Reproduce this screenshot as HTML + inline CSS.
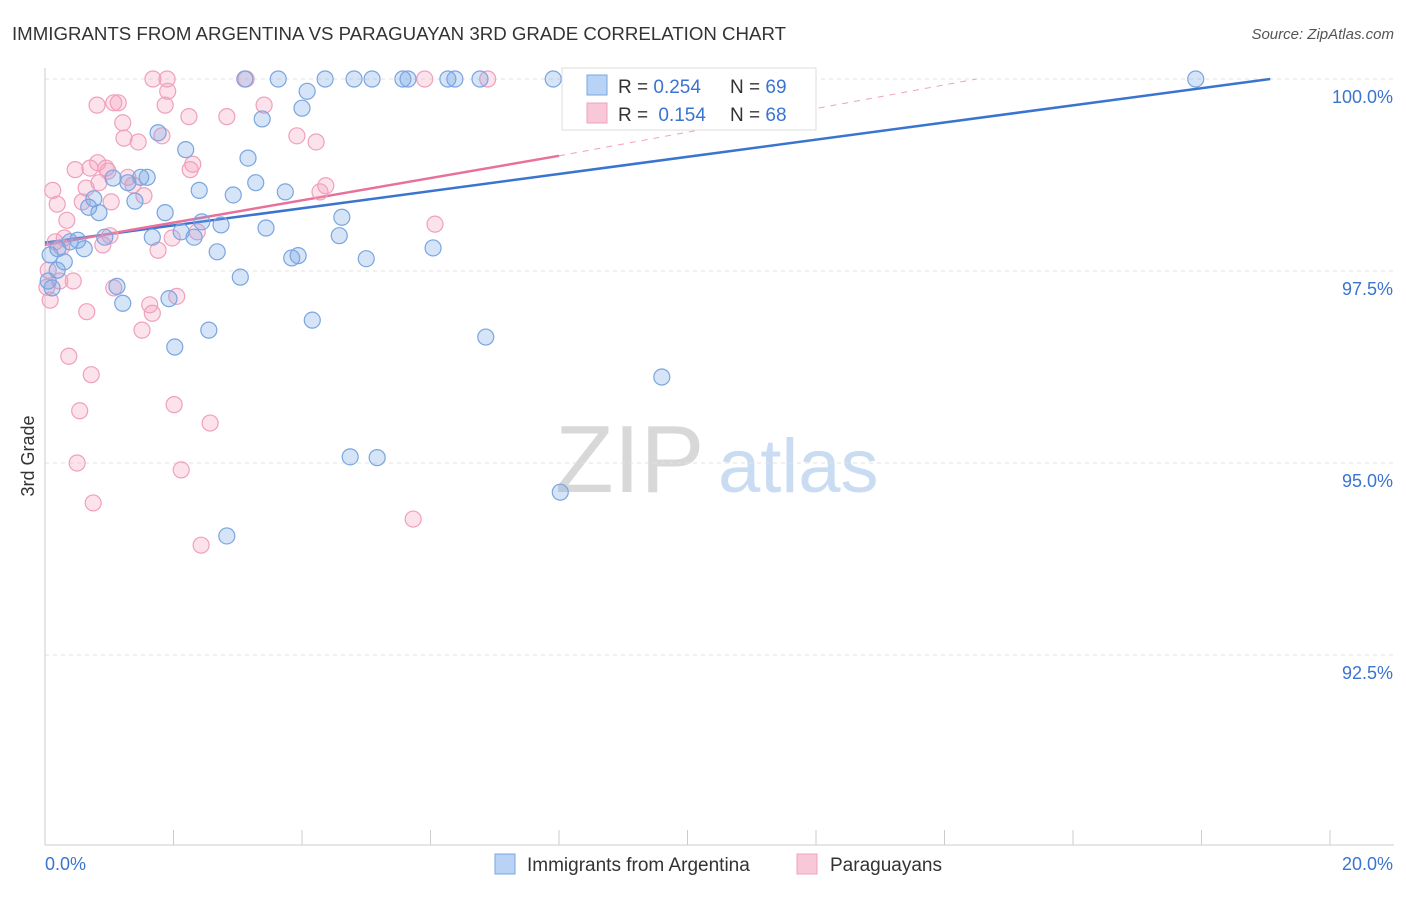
<!DOCTYPE html>
<html><head><meta charset="utf-8"><style>
body{margin:0;background:#fff;font-family:"Liberation Sans",sans-serif}
svg text{font-family:"Liberation Sans",sans-serif}
</style></head><body>
<svg id="chart" width="1406" height="892" xmlns="http://www.w3.org/2000/svg">
<text x="12" y="40" font-size="18" fill="#333" textLength="774" lengthAdjust="spacingAndGlyphs">IMMIGRANTS FROM ARGENTINA VS PARAGUAYAN 3RD GRADE CORRELATION CHART</text>
<text x="1394" y="39" font-size="15" fill="#555" text-anchor="end" font-style="italic">Source: ZipAtlas.com</text>
<g>
<text x="555" y="492" font-size="96" font-family="Liberation Serif" fill="#d8d8d8">ZIP</text>
<text x="718" y="492" font-size="76" fill="#c9dcf2">atlas</text>
</g>
<text transform="translate(34,456) rotate(-90)" font-size="18" fill="#333" text-anchor="middle">3rd Grade</text>
<g id="grid"></g><g id="axes"></g><g id="lines"></g><g id="points"></g>
<g>
<rect x="562" y="68" width="254" height="62" fill="#fff" stroke="#ddd"/>
<rect x="587" y="75" width="20" height="20" fill="#b8d3f5" stroke="#7aa5e0"/>
<text x="618" y="93" font-size="19" fill="#333">R = <tspan fill="#3a74d0">0.254</tspan></text>
<text x="730" y="93" font-size="19" fill="#333">N = <tspan fill="#3a74d0">69</tspan></text>
<rect x="587" y="103" width="20" height="20" fill="#f9c8d8" stroke="#f0a0bc"/>
<text x="618" y="121" font-size="19" fill="#333">R = <tspan fill="#3a74d0" dx="5">0.154</tspan></text>
<text x="730" y="121" font-size="19" fill="#333">N = <tspan fill="#3a74d0">68</tspan></text>
</g>
<g>
<rect x="495" y="854" width="20" height="20" fill="#b8d3f5" stroke="#7aa5e0"/>
<text x="527" y="871" font-size="19" fill="#333">Immigrants from Argentina</text>
<rect x="797" y="854" width="20" height="20" fill="#f9c8d8" stroke="#f0a0bc"/>
<text x="830" y="871" font-size="19" fill="#333">Paraguayans</text>
</g>
</svg>
<script>
const blueX=[3.11,3.63,4.36,4.81,5.09,5.57,5.65,6.27,6.38,6.77,7.91,8.17,17.91,4.08,4.00,10.82,3.38,1.76,2.19,3.16,1.06,1.49,1.59,1.29,3.28,2.40,3.74,2.93,0.76,1.40,0.68,0.84,1.87,4.62,2.44,2.74,3.44,2.12,1.67,2.32,4.58,0.51,0.93,0.39,0.20,0.61,2.68,6.04,3.94,3.84,5.00,0.30,0.19,3.04,1.12,0.11,1.93,1.21,4.16,2.55,6.86,2.02,9.60,4.75,5.17,8.02,2.83,0.08,0.05];
const blueY=[100,100,100,100,100,100,100,100,100,100,100,100,100,99.84,99.62,99.73,99.48,99.30,99.08,98.97,98.71,98.72,98.72,98.65,98.65,98.55,98.53,98.49,98.44,98.41,98.33,98.26,98.26,98.20,98.14,98.10,98.06,98.01,97.94,97.94,97.96,97.90,97.94,97.88,97.79,97.79,97.75,97.80,97.70,97.67,97.66,97.62,97.51,97.42,97.30,97.28,97.14,97.08,96.86,96.73,96.64,96.51,96.12,95.08,95.07,94.62,94.05,97.71,97.37];
const pinkX=[1.68,1.90,3.13,5.91,6.89,1.91,0.81,1.07,1.14,3.41,1.87,2.83,2.24,1.21,3.92,1.23,1.45,1.82,4.22,0.82,2.30,0.47,0.70,0.95,0.98,2.26,1.29,0.84,1.37,0.12,0.64,4.37,4.28,1.54,0.19,0.58,1.03,6.07,0.34,2.37,1.98,1.01,0.16,0.30,0.26,1.76,0.90,0.44,0.23,1.07,2.05,1.63,1.67,0.65,1.51,0.37,0.72,2.01,0.54,2.57,0.50,2.12,0.75,5.73,2.43,0.05,0.08,0.03];
const pinkY=[100,100,100,100,100,99.84,99.66,99.69,99.69,99.66,99.66,99.51,99.51,99.43,99.26,99.23,99.18,99.26,99.18,98.91,98.89,98.82,98.84,98.84,98.80,98.82,98.72,98.65,98.62,98.55,98.58,98.61,98.53,98.48,98.37,98.40,98.40,98.11,98.16,98.01,97.93,97.96,97.88,97.93,97.81,97.77,97.84,97.37,97.37,97.28,97.17,97.06,96.95,96.97,96.73,96.39,96.15,95.76,95.68,95.52,95.00,94.91,94.48,94.27,93.93,97.51,97.12,97.29];
const blueTrend=[[0,97.87],[19.07,100]];
const pinkTrendSolid=[[0,97.84],[8.0,99.0]];
const pinkTrendDash=[[8.0,99.0],[14.5,100]];
const yTicks=[100,97.5,95,92.5];
const yTickLabels=["100.0%","97.5%","95.0%","92.5%"];
const xTicks=[0,2,4,6,8,10,12,14,16,18,20];
const ns="http://www.w3.org/2000/svg";
const X=v=>45+v*64.25, Y=v=>79+(100-v)*76.8;
function mk(t,a,p){const e=document.createElementNS(ns,t);for(const k in a)e.setAttribute(k,a[k]);p.appendChild(e);return e;}
const grid=document.getElementById('grid'),axes=document.getElementById('axes'),lines=document.getElementById('lines'),pts=document.getElementById('points');
yTicks.forEach((v,i)=>{
 const l=mk('line',{x1:45,x2:1394,y1:Y(v),y2:Y(v),stroke:'#e2e2e2','stroke-dasharray':'4,4'},grid);
 
 
 const t=mk('text',{x:1393,y:Y(v)+24,'font-size':18,fill:'#3a74d0','text-anchor':'end'},axes);t.textContent=yTickLabels[i];
 
 
});
let a=mk('line',{x1:45,x2:45,y1:68,y2:845,stroke:'#ccc'},axes);


a=mk('line',{x1:45,x2:1394,y1:845,y2:845,stroke:'#ccc'},axes);


xTicks.forEach(v=>{const t=mk('line',{x1:X(v),x2:X(v),y1:830,y2:845,stroke:'#ccc'},axes);
 
 });
let t=mk('text',{x:45,y:870,'font-size':18,fill:'#3a74d0'},axes);t.textContent='0.0%';


t=mk('text',{x:1393,y:870,'font-size':18,fill:'#3a74d0','text-anchor':'end'},axes);t.textContent='20.0%';


function pt(xs,ys,fill,stroke,name){xs.forEach((x,i)=>{const c=mk('circle',{cx:X(x),cy:Y(ys[i]),r:8,fill:fill,stroke:stroke,'stroke-width':1.2},pts);
 
 });}
pt(pinkX,pinkY,'rgba(245,160,190,0.3)','#f0a0bc','paraguayan-point');
pt(blueX,blueY,'rgba(120,165,230,0.3)','#7aa5e0','argentina-point');
function ln(d,s,w,dash,name){const l=mk('line',{x1:X(d[0][0]),y1:Y(d[0][1]),x2:X(d[1][0]),y2:Y(d[1][1]),stroke:s,'stroke-width':w},lines);if(dash)l.setAttribute('stroke-dasharray',dash);
 
 }
ln(pinkTrendDash,'#f0a0bc',1,'6,6','paraguayan-trend-extension');
ln(blueTrend,'#3a74d0',2.5,null,'argentina-trend-line');
ln(pinkTrendSolid,'#e8709a',2.5,null,'paraguayan-trend-line');
</script>
</body></html>
